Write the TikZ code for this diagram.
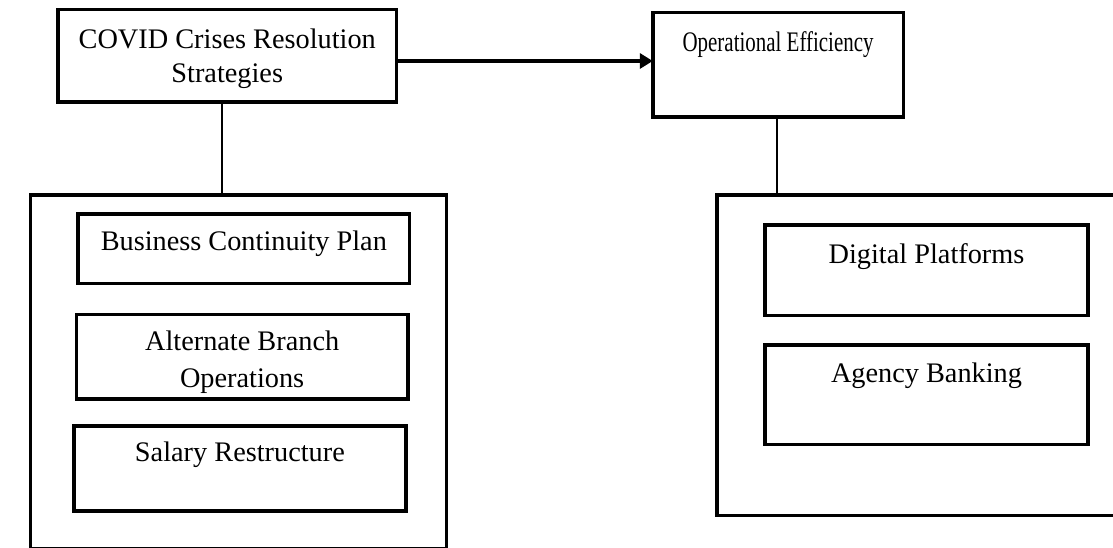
\documentclass[tikz,border=0pt]{standalone}
\usepackage{fontspec}
\setmainfont{Liberation Serif}
\usetikzlibrary{arrows.meta}
\begin{document}
\begin{tikzpicture}[x=1pt,y=-1pt,
  box/.style={draw,rectangle,line width=3.5pt,inner sep=0pt,outer sep=0pt},
  txt/.style={anchor=base,inner sep=0pt,outer sep=0pt,font=\fontsize{28.3pt}{34pt}\selectfont},
  conn/.style={line width=1.6pt},
  flow/.style={line width=4pt,-{Triangle[length=13pt,width=15pt]}}]
\useasboundingbox (0,0) rectangle (1113,548);
\clip (0,0) rectangle (1113,548);
% top boxes
\node[box,minimum width=338.5pt,minimum height=92.5pt] (b1) at (227.25,55.75) {};
\node[box,minimum width=250.5pt,minimum height=104.7pt] (b2) at (778.05,64.65) {};
% outer containers
\node[box,minimum width=416pt,minimum height=354pt] (L) at (238.3,372) {};
\node[box,minimum width=413pt,minimum height=320.7pt] (R) at (923.5,355.35) {};
% inner boxes left
\node[box,minimum width=331.7pt,minimum height=69.5pt] (bcp) at (243.85,248.75) {};
\node[box,minimum width=331.7pt,minimum height=84.5pt] (abo) at (242.15,356.95) {};
\node[box,minimum width=331.8pt,minimum height=85pt] (sr) at (239.9,468.5) {};
% inner boxes right
\node[box,minimum width=323pt,minimum height=90.7pt] (dp) at (926.5,270.35) {};
\node[box,minimum width=323pt,minimum height=99.7pt] (ab) at (926.5,394.85) {};
% texts
\node[txt] (t1a) at (227.25,48.3) {COVID Crises Resolution};
\node[txt] (t1b) at (227.25,82.7) {Strategies};
\node[txt] (t2) at (778.05,51.7) {\scalebox{0.74}[1]{Operational Efficiency}};
\node[txt] (t3) at (243.85,250.7) {Business Continuity Plan};
\node[txt] (t4a) at (242.15,350.7) {Alternate Branch};
\node[txt] (t4b) at (242.15,387.3) {Operations};
\node[txt] (t5) at (239.9,461.7) {Salary Restructure};
\node[txt] (t6) at (926.5,263.3) {Digital Platforms};
\node[txt] (t7) at (926.5,382.7) {Agency Banking};
% connectors
\draw[conn] ([xshift=-5.5pt]b1.south) -- ([xshift=-5.5pt]b1.south |- L.north);
\draw[conn] ([xshift=-1.3pt]b2.south) -- ([xshift=-1.3pt]b2.south |- R.north);
\draw[flow] ([yshift=-5.25pt]b1.east) -- ([yshift=-5.25pt]b1.east -| b2.west);
\end{tikzpicture}
\end{document}
